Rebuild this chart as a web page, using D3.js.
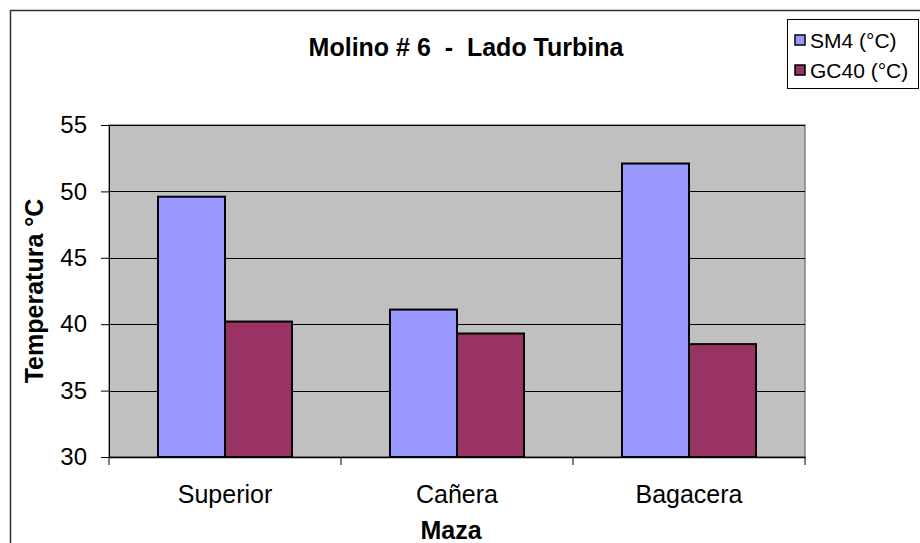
<!DOCTYPE html>
<html>
<head>
<meta charset="utf-8">
<script src="https://cdn.jsdelivr.net/npm/d3@7"></script>
<style>
    body { margin: 0; background: #fff; }
    text { font-family: "Liberation Sans", Arial, sans-serif; }
</style>
</head>
<body>
<svg id="grafico" width="920" height="543"></svg>
<script>
// datos
var categorias = ["Superior", "Cañera", "Bagacera"];
var series = ["SM4 (°C)", "GC40 (°C)"];
var valoresSM4 = [49.6, 41.1, 52.1];
var valoresGC40 = [40.2, 39.3, 38.5];
var ticksY = [30, 35, 40, 45, 50, 55];
var colores = ["#9999FF", "#993366"];

var svg = d3.select("#grafico");
var area = { x0: 109, x1: 805, y0: 125, y1: 457 };

// borde exterior
svg.append("rect")
    .attr("x", 10.5).attr("y", 10.5)
    .attr("width", 930).attr("height", 560)
    .attr("fill", "#fff")
    .attr("stroke", "#333").attr("stroke-width", 1.5);

var x = d3.scaleBand().domain(categorias).range([area.x0, area.x1]).paddingInner(0).paddingOuter(0);
var xSerie = d3.scaleBand().domain(series).range([x.bandwidth() * 0.2112, x.bandwidth() * 0.7888]);
var y = d3.scaleLinear().domain([30, 55]).range([area.y1, area.y0]);

// fondo de la zona de trazado
svg.append("rect")
    .attr("x", area.x0).attr("y", area.y0)
    .attr("width", area.x1 - area.x0).attr("height", area.y1 - area.y0)
    .attr("fill", "#C0C0C0")
    .attr("stroke", "#808080").attr("stroke-width", 1.5);

// lineas de cuadricula
svg.append("g").selectAll("line")
    .data(ticksY.slice(1))
    .join("line")
    .attr("x1", area.x0).attr("x2", area.x1)
    .attr("y1", d => Math.round(y(d)) + 0.5).attr("y2", d => Math.round(y(d)) + 0.5)
    .attr("stroke", "#000").attr("stroke-width", 1);

// barras
var filas = categorias.map((c, i) => ({ cat: c, vals: [valoresSM4[i], valoresGC40[i]] }));
var grupos = svg.append("g").selectAll("g")
    .data(filas)
    .join("g")
    .attr("transform", d => "translate(" + x(d.cat) + ",0)");
grupos.selectAll("rect")
    .data(d => d.vals.map((v, j) => ({ serie: series[j], v: v, j: j })))
    .join("rect")
    .attr("x", d => xSerie(d.serie))
    .attr("y", d => y(d.v))
    .attr("width", xSerie.bandwidth())
    .attr("height", d => y(30) - y(d.v))
    .attr("fill", d => colores[d.j])
    .attr("stroke", "#000").attr("stroke-width", 2);

// eje Y
var ejeY = svg.append("g")
    .attr("transform", "translate(" + area.x0 + ",0)")
    .call(d3.axisLeft(y).tickValues(ticksY).tickSize(8).tickPadding(14).tickFormat(d3.format("d")));
ejeY.select(".domain").attr("stroke", "#000");
ejeY.selectAll("text").attr("font-size", 24).attr("fill", "#000")
    .attr("font-family", "Liberation Sans, Arial, sans-serif");

// eje X
var ejeX = svg.append("g")
    .attr("transform", "translate(0," + area.y1 + ")")
    .call(d3.axisBottom(x).tickSize(0).tickPadding(0));
ejeX.select(".domain").attr("stroke", "#000").attr("stroke-width", 1.5);
ejeX.selectAll("text")
    .attr("y", 46).attr("dy", null)
    .attr("font-size", 25).attr("fill", "#000")
    .attr("font-family", "Liberation Sans, Arial, sans-serif");
ejeX.append("g").selectAll("line")
    .data([0, 1, 2, 3])
    .join("line")
    .attr("x1", d => area.x0 + d * x.step()).attr("x2", d => area.x0 + d * x.step())
    .attr("y1", 0).attr("y2", 8)
    .attr("stroke", "#000");

// titulos
svg.append("text")
    .attr("x", 466).attr("y", 56)
    .attr("text-anchor", "middle")
    .attr("font-size", 25).attr("font-weight", "bold")
    .attr("xml:space", "preserve")
    .text("Molino # 6  -  Lado Turbina");

svg.append("text")
    .attr("x", 451).attr("y", 539)
    .attr("text-anchor", "middle")
    .attr("font-size", 25).attr("font-weight", "bold")
    .text("Maza");

svg.append("text")
    .attr("transform", "translate(43," + ((area.y0 + area.y1) / 2) + ") rotate(-90)")
    .attr("text-anchor", "middle")
    .attr("font-size", 25).attr("font-weight", "bold")
    .text("Temperatura °C");

// leyenda
var leyenda = svg.append("g").attr("transform", "translate(787,19)");
leyenda.append("rect")
    .attr("x", 0.5).attr("y", 0.5)
    .attr("width", 131).attr("height", 69)
    .attr("fill", "#fff").attr("stroke", "#000").attr("stroke-width", 1);
var items = leyenda.selectAll("g.item")
    .data(series)
    .join("g")
    .attr("class", "item")
    .attr("transform", (d, i) => "translate(0," + (29 + i * 30) + ")");
items.append("rect")
    .attr("x", 8).attr("y", -13)
    .attr("width", 10).attr("height", 10)
    .attr("fill", (d, i) => colores[i])
    .attr("stroke", "#000").attr("stroke-width", 1.5);
items.append("text")
    .attr("x", 23).attr("y", 0)
    .attr("font-size", 21)
    .text(d => d);
</script>
</body>
</html>
